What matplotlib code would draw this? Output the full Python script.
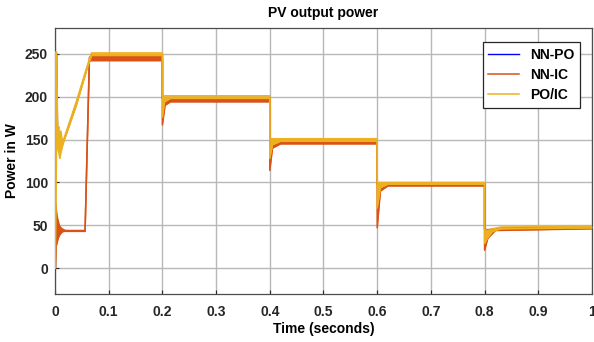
import numpy as np
from matplotlib import pyplot as plt

# PV output power traces
# each trace is drawn as a thin envelope (lower / upper) through keypoints

po_ic_t = [0, 0.0005, 0.003, 0.005, 0.007, 0.009, 0.011, 0.013, 0.016, 0.040, 0.060, 0.068,
           0.200, 0.200, 0.204, 0.215, 0.400, 0.400, 0.405, 0.420,
           0.600, 0.600, 0.606, 0.620, 0.800, 0.800, 0.806, 0.815, 0.830, 1.000]
po_ic_hi = [0, 252, 252, 160, 165, 150, 160, 150, 150, 195, 236, 251,
            251, 201, 201, 201, 201, 151, 151, 151,
            151, 100, 100, 100, 100, 45, 44, 46, 48, 49]
po_ic_lo = [0, 0, 150, 140, 135, 128, 135, 140, 147, 190, 233, 248,
            248, 176, 194, 198, 198, 128, 144, 148,
            148, 70, 94, 98, 98, 29, 36, 43, 46, 47]

# NN-PO sits underneath the PO/IC trace
nn_po_t = po_ic_t
nn_po_p = [0, 250, 250, 150, 150, 140, 148, 146, 148, 192, 234, 249,
           249, 199, 199, 199, 199, 149, 149, 149,
           149, 99, 99, 99, 99, 47, 42, 45, 47, 48]

nn_ic_t = [0, 0.001, 0.002, 0.004, 0.006, 0.008, 0.010, 0.013, 0.016, 0.020, 0.056, 0.064, 0.067,
           0.200, 0.200, 0.205, 0.215, 0.400, 0.400, 0.405, 0.420,
           0.600, 0.600, 0.606, 0.620, 0.800, 0.800, 0.806, 0.820, 1.000]
nn_ic_hi = [0, 75, 70, 60, 55, 50, 48, 46, 45, 44, 44, 246, 247,
            247, 198, 197, 197, 197, 148, 148, 148,
            148, 98, 98, 98, 98, 45, 45, 46, 47]
nn_ic_lo = [0, 0, 25, 30, 35, 38, 40, 42, 43, 43, 43, 241, 242,
            242, 167, 190, 194, 194, 114, 140, 145,
            145, 47, 90, 96, 96, 21, 35, 44, 46]

x_ticks = [0, 0.1, 0.2, 0.3, 0.4, 0.5, 0.6, 0.7, 0.8, 0.9, 1]
x_tick_labels = ['0', '0.1', '0.2', '0.3', '0.4', '0.5', '0.6', '0.7', '0.8', '0.9', '1']
y_ticks = [0, 50, 100, 150, 200, 250]

plt.rcParams['font.family'] = ['Liberation Sans', 'DejaVu Sans']
plt.rcParams['font.weight'] = 'bold'

fig = plt.figure(figsize=(5.94, 3.42), dpi=100)
ax = fig.add_axes([0.0926, 0.1404, 0.904, 0.7776])

# blue trace first, hidden under the other two
ax.plot(nn_po_t, nn_po_p, color='#0000ff', lw=1.0, label='NN-PO', zorder=1.5)

series = [
    ('NN-IC', '#d95319', nn_ic_t, nn_ic_lo, nn_ic_hi, 2),
    ('PO/IC', '#edb120', po_ic_t, po_ic_lo, po_ic_hi, 3),
]
for name, color, t, lo, hi, z in series:
    ax.fill_between(t, lo, hi, color=color, lw=0, zorder=z)
    ax.plot(t, hi, color=color, lw=1.1, label=name, zorder=z)
    ax.plot(t, lo, color=color, lw=1.1, zorder=z)

ax.set_xlim(0, 1)
ax.set_ylim(-30, 280)
ax.set_xticks(x_ticks)
ax.set_xticklabels(x_tick_labels)
ax.set_yticks(y_ticks)
ax.tick_params(direction='in', length=3, labelsize=10, colors='#262626')
ax.tick_params(axis='y', pad=5)
ax.tick_params(axis='x', pad=8)
for lab in ax.get_xticklabels() + ax.get_yticklabels():
    lab.set_fontweight('bold')
ax.grid(True, color='#b8b8b8', lw=1)
ax.set_axisbelow(True)
for sp in ax.spines.values():
    sp.set_color('#4d4d4d')
    sp.set_linewidth(0.9)

ax.set_title('PV output power', fontsize=10, fontweight='bold', pad=8)
ax.set_xlabel('Time (seconds)', fontsize=10, fontweight='bold', labelpad=2)
ax.set_ylabel('Power in W', fontsize=10, fontweight='bold', labelpad=4)

leg = ax.legend(loc='upper right', bbox_to_anchor=(1 - 12/537, 1 - 14/266),
                borderaxespad=0, fancybox=False, framealpha=1, edgecolor='#262626',
                handlelength=2.2, labelspacing=0.45,
                prop={'weight': 'bold', 'size': 10})
leg.get_frame().set_linewidth(0.9)
leg.set_zorder(5)

plt.savefig('out.png', dpi=100)
